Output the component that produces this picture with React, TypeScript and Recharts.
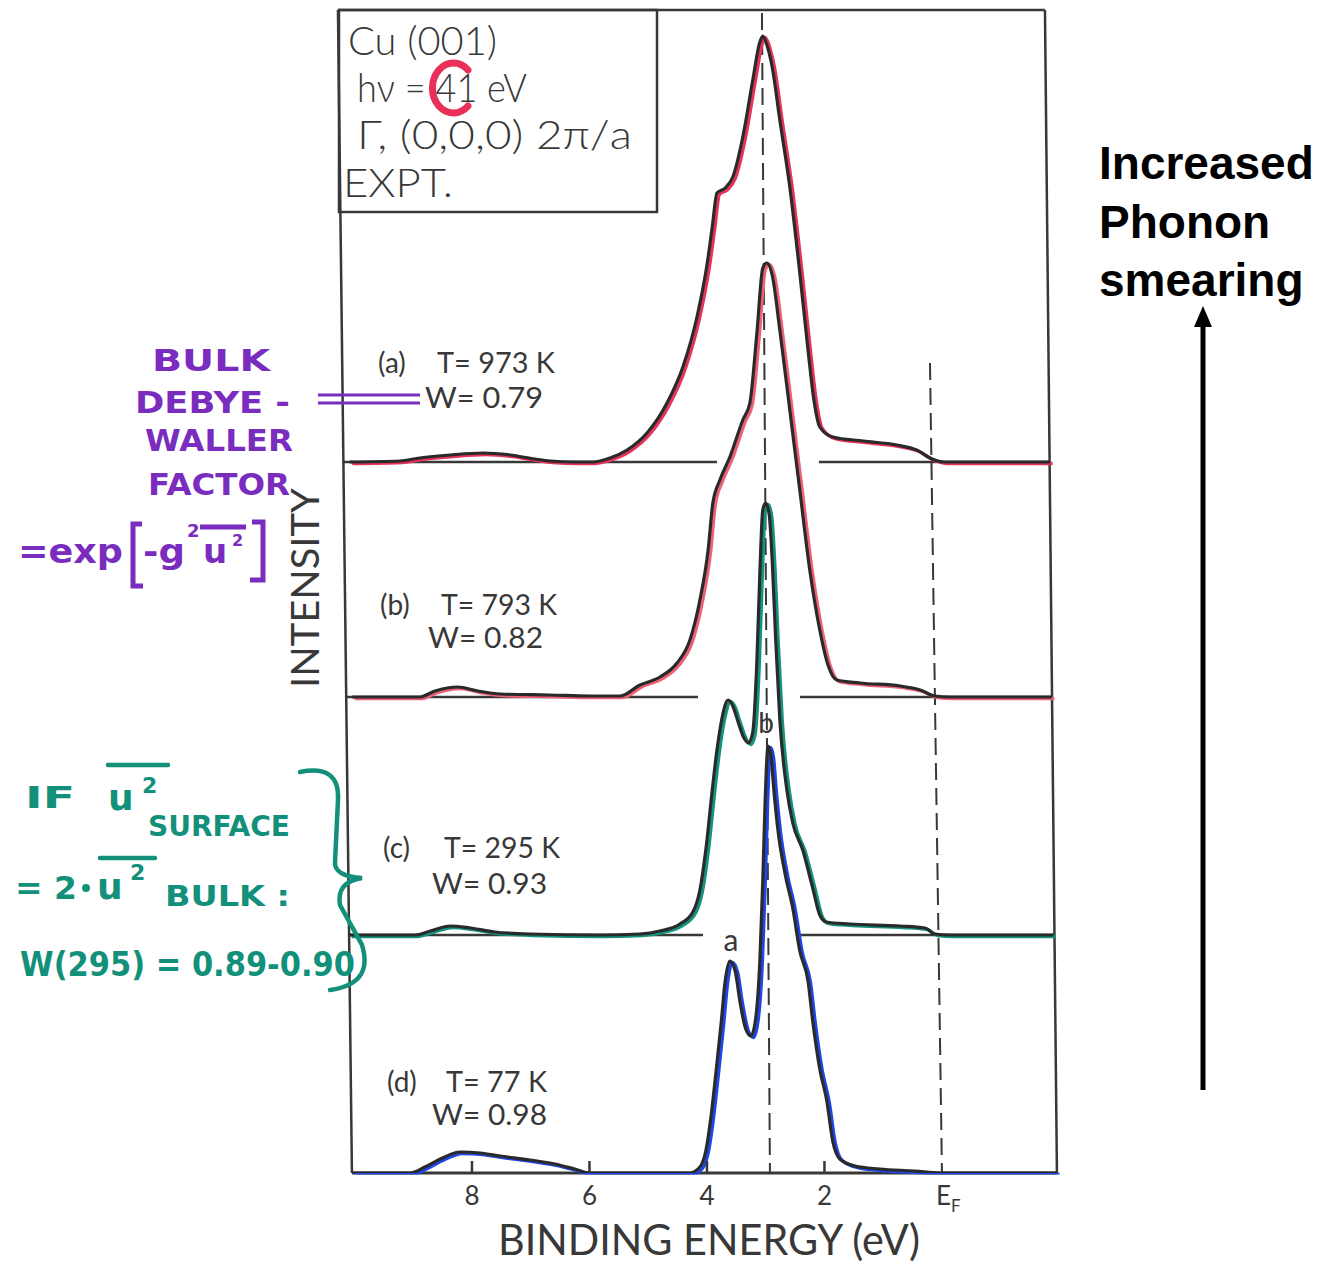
import React from 'react';
import { LineChart, Line, XAxis, YAxis, ReferenceLine } from 'recharts';

// ---- Data (binding energy in eV, intensity in arbitrary units above each baseline) ----
const ENERGY_A = [10.08, 9.23, 8.89, 8.37, 7.81, 7.35, 6.93, 6.67, 6.25, 5.94, 5.65, 5.36, 5.02, 4.68, 4.41, 4.17, 4.0, 3.91, 3.83, 3.69, 3.56, 3.39, 3.22, 3.1, 3.05, 2.98, 2.89, 2.76, 2.59, 2.42, 2.28, 2.18, 2.08, 1.86, 1.34, 0.77, 0.43, 0.17, -0.05, -1.84];
const INTENSITY_A = [0, 1, 4, 7, 9, 7, 3, 1, 0, 0, 4, 12, 29, 59, 95, 145, 197, 235, 269, 274, 285, 325, 382, 420, 426, 417, 395, 342, 275, 189, 112, 62, 35, 25, 21, 17, 12, 3, 0, 0];

const ENERGY_B = [10.04, 8.89, 8.63, 8.24, 7.9, 7.52, 6.67, 5.99, 5.48, 5.14, 4.8, 4.51, 4.29, 4.12, 3.98, 3.9, 3.78, 3.61, 3.39, 3.27, 3.15, 3.05, 2.98, 2.89, 2.76, 2.59, 2.42, 2.25, 2.08, 1.94, 1.79, 1.4, 0.71, 0.37, 0.12, -0.14, -1.87];
const INTENSITY_B = [0, 0, 6, 10, 6, 3, 2, 1, 1, 12, 20, 34, 57, 97, 147, 194, 217, 240, 277, 294, 364, 429, 434, 422, 367, 287, 207, 127, 67, 32, 17, 14, 11, 7, 1, 0, 0];

const ENERGY_C = [10.09, 8.97, 8.71, 8.37, 8.03, 7.61, 7.01, 5.82, 5.14, 4.8, 4.46, 4.24, 4.12, 4.02, 3.91, 3.83, 3.74, 3.64, 3.56, 3.47, 3.37, 3.29, 3.22, 3.15, 3.1, 3.05, 3.0, 2.94, 2.89, 2.83, 2.76, 2.64, 2.54, 2.37, 2.2, 2.08, 1.97, 1.57, 0.71, 0.29, 0.12, -0.14, -1.9];
const INTENSITY_C = [0, 0, 4, 9, 7, 3, 1, 0, 1, 4, 11, 23, 45, 85, 145, 185, 218, 235, 229, 213, 197, 192, 203, 275, 362, 425, 432, 420, 375, 295, 215, 145, 112, 85, 47, 20, 13, 11, 9, 7, 1, 0, 0];

const ENERGY_D = [10.04, 9.06, 8.8, 8.54, 8.2, 7.86, 7.52, 7.01, 6.59, 6.25, 5.99, 4.29, 4.12, 4.02, 3.93, 3.85, 3.76, 3.69, 3.61, 3.52, 3.44, 3.34, 3.25, 3.17, 3.1, 3.05, 3.01, 2.96, 2.91, 2.86, 2.79, 2.67, 2.54, 2.42, 2.28, 2.2, 2.08, 1.96, 1.86, 1.74, 1.48, 1.06, 0.46, 0.03, -1.96];
const INTENSITY_D = [0, 0, 6, 14, 21, 20, 17, 13, 9, 4, 0, 0, 6, 22, 57, 99, 149, 192, 212, 202, 172, 144, 137, 155, 212, 292, 372, 427, 417, 382, 342, 299, 265, 222, 192, 152, 104, 72, 32, 14, 7, 4, 2, 0, 0];

// vertical offsets of the stacked spectra (a, b, c, d)
const OFFSETS = [711, 476, 238, 0];
const TRACE_COLORS = ['#e6335c', '#ee6077', '#14937c', '#1f47e6'];

// baseline segments (energy ranges) for spectra a, b, c; spectrum d sits on the axis
const BASELINE_SEGMENTS = [
  [[10.196, 3.83], [2.094, -1.838]],
  [[10.145, 4.153], [2.417, -1.872]],
  [[10.094, 4.068], [2.468, -1.906]],
];

const TICKS = [8, 6, 4, 2, 0];
const TICK_LABELS = ['8', '6', '4', '2', 'EF'];

const SPECTRUM_TAGS = ['(a)', '(b)', '(c)', '(d)'];
const SPECTRUM_TEMPS = ['T= 973 K', 'T= 793 K', 'T= 295 K', 'T= 77 K'];
const SPECTRUM_W = ['W= 0.79', 'W= 0.82', 'W= 0.93', 'W= 0.98'];

const X_DOMAIN: [number, number] = [-2.05, 10.35];
const Y_DOMAIN: [number, number] = [0, 1163];

const build = (energy: number[], intensity: number[], offset: number) =>
  energy.map((e, i) => ({ e, v: intensity[i] + offset }));

const SERIES = [
  { key: 'a', data: build(ENERGY_A, INTENSITY_A, OFFSETS[0]), color: TRACE_COLORS[0] },
  { key: 'b', data: build(ENERGY_B, INTENSITY_B, OFFSETS[1]), color: TRACE_COLORS[1] },
  { key: 'c', data: build(ENERGY_C, INTENSITY_C, OFFSETS[2]), color: TRACE_COLORS[2] },
  { key: 'd', data: build(ENERGY_D, INTENSITY_D, OFFSETS[3]), color: TRACE_COLORS[3] },
];

const INK = '#383838';
const FIG_FONT = 'Lato, "DejaVu Sans", sans-serif';
const PURPLE = '#7a2cbf';
const TEAL = '#12907a';

const AxisTick = (props: any) => {
  const { x, y, payload } = props;
  const i = TICKS.indexOf(payload.value);
  const label = TICK_LABELS[i];
  return (
    <g>
      {payload.value !== 0 && (
        <line x1={x} y1={y} x2={x} y2={y - 12} stroke={INK} strokeWidth={2.5} />
      )}
      {label === 'EF' ? (
        <text x={x - 6} y={y + 32} fontSize={26} fill={INK} fontFamily={FIG_FONT}>
          E<tspan fontSize={17} dy={7}>F</tspan>
        </text>
      ) : (
        <text x={x} y={y + 32} textAnchor="middle" fontSize={26} fill={INK} fontFamily={FIG_FONT}>
          {label}
        </text>
      )}
    </g>
  );
};

const LABEL_POS = [
  { ax: 378, tx: 437, ty: 373, tw: 118, wx: 425, wy: 408, ww: 118 },
  { ax: 380, tx: 441, ty: 615, tw: 116, wx: 428, wy: 648, ww: 115 },
  { ax: 383, tx: 444, ty: 858, tw: 116, wx: 432, wy: 894, ww: 115 },
  { ax: 387, tx: 446, ty: 1092, tw: 101, wx: 432, wy: 1125, ww: 115 },
];

export default function App() {
  return (
    <div style={{ position: 'absolute', left: 0, top: 0, width: 1327, height: 1264, background: '#fff' }}>
      <style>{`.trace-color { transform: translate(2.5px, 1.5px); }`}</style>
      <LineChart
        width={1327}
        height={1264}
        margin={{ left: 333.9, right: 264.6, top: 10, bottom: 31 }}
      >
        <XAxis
          type="number"
          dataKey="e"
          domain={X_DOMAIN}
          reversed
          allowDataOverflow
          ticks={TICKS}
          interval={0}
          axisLine={false}
          tickLine={false}
          tickSize={0}
          tickMargin={0}
          height={60}
          tick={<AxisTick />}
        />
        <YAxis type="number" domain={Y_DOMAIN} hide allowDataOverflow />

        {/* frame (slightly skewed like the scanned original) */}
        <ReferenceLine ifOverflow="visible" segment={[{ x: 10.281, y: 1163 }, { x: 10.043, y: 0 }]} stroke={INK} strokeWidth={2.5} />
        <ReferenceLine ifOverflow="visible" segment={[{ x: 10.281, y: 1163 }, { x: -1.753, y: 1163 }]} stroke={INK} strokeWidth={2.5} />
        <ReferenceLine ifOverflow="visible" segment={[{ x: -1.753, y: 1163 }, { x: -1.957, y: 0 }]} stroke={INK} strokeWidth={2.5} />
        <ReferenceLine ifOverflow="visible" segment={[{ x: 10.043, y: 0 }, { x: -1.957, y: 0 }]} stroke={INK} strokeWidth={3} />

        {/* baselines of spectra a, b, c */}
        {BASELINE_SEGMENTS.map((segs, si) =>
          segs.map((s, k) => (
            <ReferenceLine
              key={`bl-${si}-${k}`}
              ifOverflow="visible"
              segment={[{ x: s[0], y: OFFSETS[si] }, { x: s[1], y: OFFSETS[si] }]}
              stroke={INK}
              strokeWidth={2.5}
            />
          ))
        )}

        {/* dashed guide lines */}
        <ReferenceLine ifOverflow="visible" segment={[{ x: 3.064, y: 1160 }, { x: 2.928, y: 0 }]} stroke={INK} strokeWidth={2} strokeDasharray="17 8" />
        <ReferenceLine ifOverflow="visible" segment={[{ x: 0.204, y: 810 }, { x: 0, y: 0 }]} stroke={INK} strokeWidth={2} strokeDasharray="17 8" />

        {SERIES.map((s) => (
          <Line
            key={`c-${s.key}`}
            className="trace-color"
            data={s.data}
            dataKey="v"
            type="monotone"
            stroke={s.color}
            strokeWidth={3.4}
            dot={false}
            activeDot={false}
            isAnimationActive={false}
          />
        ))}
        {SERIES.map((s) => (
          <Line
            key={`k-${s.key}`}
            data={s.data}
            dataKey="v"
            type="monotone"
            stroke="#2a2a2a"
            strokeWidth={3.2}
            dot={false}
            activeDot={false}
            isAnimationActive={false}
          />
        ))}
      </LineChart>

      <svg
        width={1327}
        height={1264}
        style={{ position: 'absolute', left: 0, top: 0, pointerEvents: 'none' }}
      >
        {/* legend box */}
        <rect x={339} y={10} width={318} height={202} fill="none" stroke={INK} strokeWidth={2.5} />
        <g fill={INK} fontFamily={FIG_FONT} fontWeight={300}>
          <text x={348} y={55} fontSize={40} textLength={149} lengthAdjust="spacingAndGlyphs">Cu (001)</text>
          <text x={357} y={102} fontSize={40} textLength={170} lengthAdjust="spacingAndGlyphs">hν = 41 eV</text>
          <text x={357} y={149} fontSize={40} textLength={275} lengthAdjust="spacingAndGlyphs">Γ, (0,0,0) 2π/a</text>
          <text x={343} y={197} fontSize={40} textLength={110} lengthAdjust="spacingAndGlyphs">EXPT.</text>
        </g>
        <path d="M 468 70 A 21 25 0 1 0 468 106" fill="none" stroke="#e8305a" strokeWidth={7} strokeLinecap="round" />

        {/* spectrum labels */}
        <g fill={INK} fontFamily={FIG_FONT} fontSize={28}>
          {SPECTRUM_TAGS.map((tag, i) => (
            <g key={`lab-${i}`}>
              <text x={LABEL_POS[i].ax} y={LABEL_POS[i].ty}>{tag}</text>
              <text x={LABEL_POS[i].tx} y={LABEL_POS[i].ty} textLength={LABEL_POS[i].tw} lengthAdjust="spacingAndGlyphs">{SPECTRUM_TEMPS[i]}</text>
              <text x={LABEL_POS[i].wx} y={LABEL_POS[i].wy} textLength={LABEL_POS[i].ww} lengthAdjust="spacingAndGlyphs">{SPECTRUM_W[i]}</text>
            </g>
          ))}
          <text x={766} y={733} textAnchor="middle" fontSize={28}>b</text>
          <text x={731} y={951} textAnchor="middle" fontSize={30}>a</text>
        </g>

        {/* axis titles */}
        <text transform="translate(319, 588) rotate(-90)" textAnchor="middle" fontSize={38} fill={INK} fontFamily={FIG_FONT} textLength={200} lengthAdjust="spacingAndGlyphs">INTENSITY</text>
        <text x={709} y={1255} textAnchor="middle" fontSize={42} fill={INK} fontFamily={FIG_FONT} textLength={422} lengthAdjust="spacingAndGlyphs">BINDING ENERGY (eV)</text>

        {/* right-hand annotation */}
        <g fontFamily='"Liberation Sans", Arial, sans-serif' fontWeight="bold" fontSize={46} fill="#000">
          <text x={1099} y={179}>Increased</text>
          <text x={1099} y={238}>Phonon</text>
          <text x={1099} y={296}>smearing</text>
        </g>
        <line x1={1203} y1={1090} x2={1203} y2={322} stroke="#000" strokeWidth={5} />
        <polygon points="1203,306 1194,327 1212,327" fill="#000" />

        {/* purple hand annotation */}
        <g fill={PURPLE} fontFamily='"DejaVu Sans", sans-serif' fontWeight="bold">
          <text x={152} y={371} fontSize={30} textLength={118} lengthAdjust="spacingAndGlyphs">BULK</text>
          <text x={135} y={413} fontSize={30} textLength={155} lengthAdjust="spacingAndGlyphs">DEBYE -</text>
          <text x={145} y={451} fontSize={30} textLength={148} lengthAdjust="spacingAndGlyphs">WALLER</text>
          <text x={148} y={495} fontSize={30} textLength={142} lengthAdjust="spacingAndGlyphs">FACTOR</text>
          <text x={18} y={563} fontSize={34} textLength={105} lengthAdjust="spacingAndGlyphs">=exp</text>
          <text x={143} y={563} fontSize={34} textLength={42} lengthAdjust="spacingAndGlyphs">-g</text>
          <text x={187} y={537} fontSize={18}>2</text>
          <text x={203} y={563} fontSize={34}>u</text>
          <text x={232} y={546} fontSize={16}>2</text>
        </g>
        <g stroke={PURPLE} fill="none" strokeWidth={5}>
          <path d="M 142 524 L 133 524 L 133 586 L 143 586" />
          <path d="M 200 527 L 246 527" />
          <path d="M 252 522 L 263 522 L 263 580 L 250 580" />
          <path d="M 318 395 L 420 395" strokeWidth={3} />
          <path d="M 318 403 L 420 403" strokeWidth={3} />
        </g>

        {/* teal hand annotation */}
        <g fill={TEAL} fontFamily='"DejaVu Sans", sans-serif' fontWeight="bold">
          <text x={25} y={808} fontSize={30} textLength={50} lengthAdjust="spacingAndGlyphs">IF</text>
          <text x={108} y={810} fontSize={36}>u</text>
          <text x={142} y={793} fontSize={22}>2</text>
          <text x={148} y={836} fontSize={28} textLength={142} lengthAdjust="spacingAndGlyphs">SURFACE</text>
          <text x={15} y={899} fontSize={32} textLength={62} lengthAdjust="spacingAndGlyphs">= 2</text>
          <circle cx={86} cy={888} r={4} />
          <text x={97} y={899} fontSize={36}>u</text>
          <text x={130} y={880} fontSize={22}>2</text>
          <text x={165} y={906} fontSize={28} textLength={125} lengthAdjust="spacingAndGlyphs">BULK :</text>
          <text x={20} y={976} fontSize={34} textLength={335} lengthAdjust="spacingAndGlyphs">W(295) = 0.89-0.90</text>
        </g>
        <g stroke={TEAL} fill="none" strokeWidth={4.5} strokeLinecap="round">
          <path d="M 108 765 L 168 765" />
          <path d="M 100 858 L 155 858" />
          <path d="M 300 772 Q 340 764 338 800 L 335 862 Q 334 876 362 878 Q 336 882 340 905 L 362 945 Q 374 984 330 990" />
        </g>
      </svg>
    </div>
  );
}
